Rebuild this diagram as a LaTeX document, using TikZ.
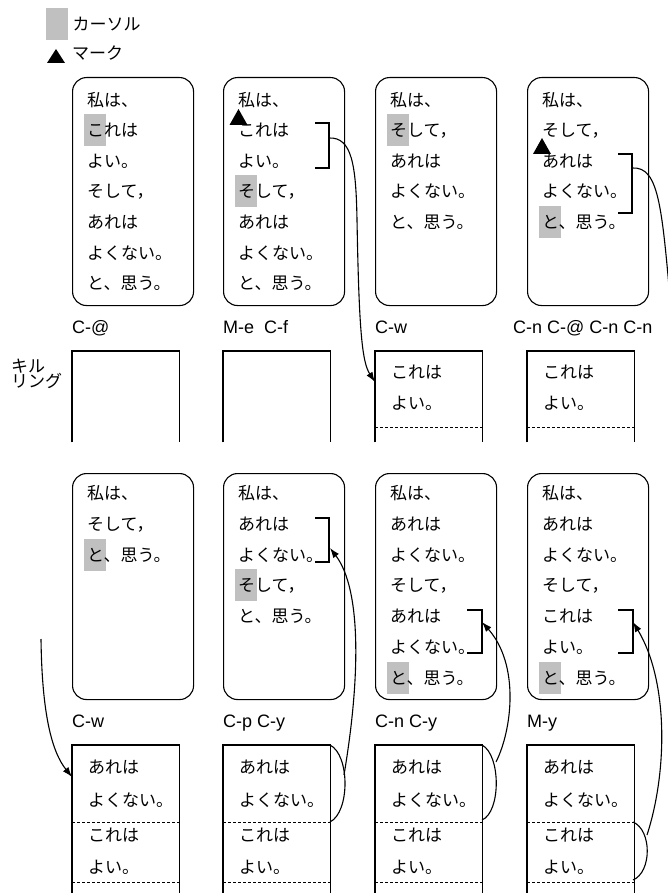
\documentclass[tikz,border=0pt]{standalone}
\usepackage{fontspec}
\setmainfont{Noto Sans CJK JP}
\newfontfamily\keyfont{Liberation Sans}
\usetikzlibrary{arrows.meta,positioning}
\definecolor{cursorgray}{HTML}{C0C0C0}
\tikzset{
  panel/.style={draw,line width=1.1pt,rounded corners=14pt,minimum width=121pt,minimum height=228pt,anchor=north west,inner sep=0pt},
  ringbox/.style={minimum width=107pt,anchor=north west,inner sep=0pt},
  line/.style={anchor=west,inner sep=0pt,font=\fontsize{17pt}{20pt}\selectfont,text height=15pt,text depth=2pt},
  key/.style={anchor=base west,inner sep=0pt,font=\keyfont\fontsize{18pt}{20pt}\selectfont},
  cursor/.style={fill=cursorgray,minimum width=22pt,minimum height=32pt,inner sep=0pt,anchor=west},
  sep/.style={dash pattern=on 3pt off 2pt,line width=0.9pt},
  edge/.style={line width=1.1pt},
  yank/.style={line width=1.1pt,-{Latex[length=10pt,width=7pt]}},
}
\newcommand\markat[2]{\fill (#1-9,#2) -- (#1+9,#2) -- (#1,#2-16) -- cycle;}

\begin{document}
\begin{tikzpicture}[x=1pt,y=-1pt]
  \useasboundingbox (0,0) rectangle (668,893);

  % legend
  \node[cursor,anchor=north west] (curkey) at (46,8) {};
  \node[line,right=4pt of curkey] (curtxt) {カーソル};
  \fill (47,63) -- (65,63) -- (56,49) -- cycle;
  \node[line] (marktxt) at (72,53) {マーク};

  % top row: buffers
  \node[cursor] (cur1) at (84,130.5) {};
  \node[cursor] (cur2) at (235,191.5) {};
  \node[cursor] (cur3) at (387,130.5) {};
  \node[cursor] (cur4) at (539,222) {};
  \foreach \t [count=\i] in {私は、,これは,よい。,そして，,あれは,よくない。,と、思う。}{
    \node[line] (a1-\i) at (87,{100+30.5*(\i-1)}) {\t};
    \node[line] (a2-\i) at (238,{100+30.5*(\i-1)}) {\t};
  }
  \foreach \t [count=\i] in {私は、,そして，,あれは,よくない。,と、思う。}{
    \node[line] (a3-\i) at (390,{100+30.5*(\i-1)}) {\t};
    \node[line] (a4-\i) at (542,{100+30.5*(\i-1)}) {\t};
  }
  \foreach \c/\x in {1/72,2/223,3/375,4/527}
    \node[panel] (buf\c) at (\x,77) {};
  \markat{238.5}{125}
  \markat{542}{154}
  \draw[edge] (315,123) -| (329,168) -- (315,168);
  \draw[edge] (618,154) -| (632,213) -- (618,213);

  % top row: keys
  \node[key] (key1) at (72,333) {C-@};
  \node[key] (key2) at (223,333) {M-e\ \ C-f};
  \node[key] (key3) at (375,333) {C-w};
  \node[key] (key4) at (513,333) {C-n C-@ C-n C-n};

  % top row: kill ring
  \node[line,font=\fontsize{17pt}{15.5pt}\selectfont,align=left] (killtxt) at (11,381) {キル\\リング};
  \foreach \c/\x in {1/72,2/223,3/375,4/527}{
    \node[ringbox,minimum height=91pt] (ring\c) at (\x,351) {};
    \draw[edge] (ring\c.south west) -- (ring\c.north west) -- (ring\c.north east) -- (ring\c.south east);
  }
  \foreach \c/\x in {3/391,4/543}{
    \node[line] (k\c-1) at (\x,372) {これは};
    \node[line] (k\c-2) at (\x,403) {よい。};
  }
  \draw[sep] (375,427) -- (482,427);
  \draw[sep] (527,427) -- (634,427);

  % bottom row: buffers
  \node[cursor] (cur5) at (84,554.6) {};
  \node[cursor] (cur6) at (235,585.4) {};
  \node[cursor] (cur7) at (387,677.8) {};
  \node[cursor] (cur8) at (539,677.8) {};
  \foreach \t [count=\i] in {私は、,そして，,と、思う。}
    \node[line] (a5-\i) at (87,{493+30.8*(\i-1)}) {\t};
  \foreach \t [count=\i] in {私は、,あれは,よくない。,そして，,と、思う。}
    \node[line] (a6-\i) at (238,{493+30.8*(\i-1)}) {\t};
  \foreach \t [count=\i] in {私は、,あれは,よくない。,そして，,あれは,よくない。,と、思う。}
    \node[line] (a7-\i) at (390,{493+30.8*(\i-1)}) {\t};
  \foreach \t [count=\i] in {私は、,あれは,よくない。,そして，,これは,よい。,と、思う。}
    \node[line] (a8-\i) at (542,{493+30.8*(\i-1)}) {\t};
  \foreach \c/\x in {5/72,6/223,7/375,8/527}
    \node[panel,minimum height=226pt] (buf\c) at (\x,473) {};
  \draw[edge] (315,518) -| (329,562) -- (315,562);
  \draw[edge] (467,610) -| (482,653) -- (467,653);
  \draw[edge] (618,610) -| (633,653) -- (618,653);

  % bottom row: keys
  \node[key] (key5) at (72,727) {C-w};
  \node[key] (key6) at (223,727) {C-p C-y};
  \node[key] (key7) at (375,727) {C-n C-y};
  \node[key] (key8) at (527,727) {M-y};

  % bottom row: kill ring
  \foreach \c/\x in {5/72,6/223,7/375,8/527}{
    \node[ringbox,minimum height=150pt] (ring\c) at (\x,745) {};
    \draw[edge] (ring\c.south west) -- (ring\c.north west) -- (ring\c.north east) -- (ring\c.south east);
    \node[line] (k\c-1) at (\x+16,767) {あれは};
    \node[line] (k\c-2) at (\x+16,800) {よくない。};
    \node[line] (k\c-3) at (\x+16,835) {これは};
    \node[line] (k\c-4) at (\x+16,867) {よい。};
    \draw[sep] (\x,822) -- (\x+107,822);
    \draw[sep] (\x,882) -- (\x+107,882);
  }

  % yanks
  \coordinate (b2) at (329,138);
  \coordinate (b4) at (632,168);
  \coordinate (b6) at (330,548);
  \coordinate (b7) at (482,622);
  \coordinate (b8) at (633,622);
  \coordinate (r3in) at (375,382);
  \coordinate (wrap) at (41,639);
  \coordinate (r5in) at (72,777);
  \draw[yank] (b2) .. controls (352,137) and (356,165) .. (357,220) .. controls (359,330) and (362,362) .. (r3in);
  \draw[edge] (b4) .. controls (660,166) and (662,210) .. (672,320);
  \draw[yank] (wrap) .. controls (42,715) and (52,752) .. (r5in);
  \draw[edge] (330,745) .. controls (350,755) and (350,812) .. (330,822);
  \draw[yank] (344,775) .. controls (360,680) and (362,590) .. (b6);
  \draw[edge] (482,745) .. controls (501,755) and (501,812) .. (482,820);
  \draw[yank] (496,762) .. controls (512,730) and (520,665) .. (b7);
  \draw[edge] (633,822) .. controls (652,830) and (652,872) .. (633,880);
  \draw[yank] (647,835) .. controls (668,770) and (668,680) .. (b8);
\end{tikzpicture}
\end{document}
